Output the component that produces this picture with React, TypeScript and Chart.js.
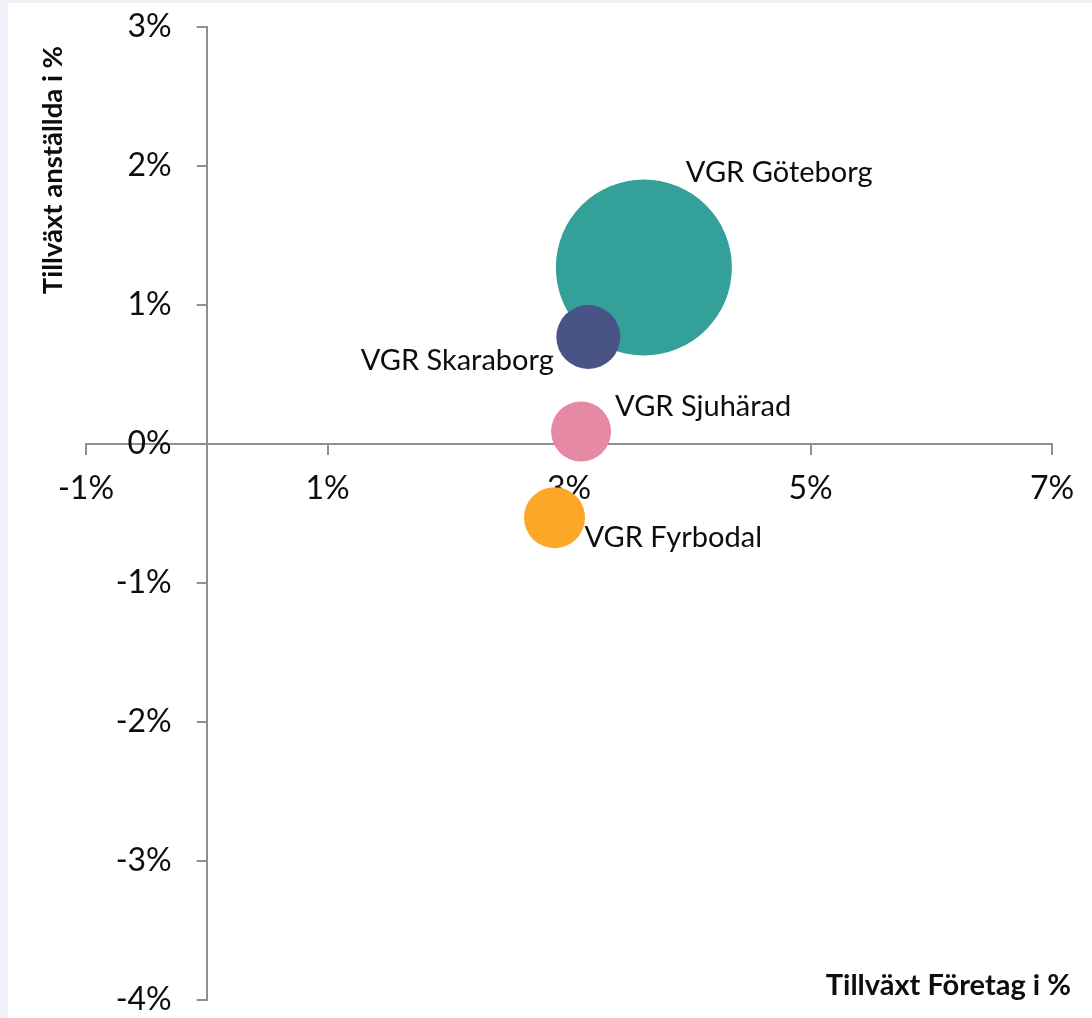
import React, { useEffect, useRef } from 'react';
import { Chart, registerables } from 'chart.js';

Chart.register(...registerables);

// ---- data ----
const regions = ['VGR Göteborg', 'VGR Skaraborg', 'VGR Sjuhärad', 'VGR Fyrbodal'];
const companyGrowth = [3.62, 3.16, 3.1, 2.88]; // x, %
const employeeGrowth = [1.27, 0.77, 0.09, -0.53]; // y, %
const bubbleSizes = [88, 32, 30, 30.5];
const xTickValues = [-1, 1, 3, 5, 7];
const yTickValues = [-4, -3, -2, -1, 0, 1, 2, 3];
const xAxisTitle = 'Tillväxt Företag i %';
const yAxisTitle = 'Tillväxt anställda i %';

// ---- style ----
const bubbleColors = ['#33a19a', '#485486', '#e589a4', '#fca728'];
const labelPlacement = [
  { dx: 42, dy: -85.5, align: 'left' },
  { dx: -34.5, dy: 33.5, align: 'right' },
  { dx: 34, dy: -15.5, align: 'left' },
  { dx: 30, dy: 29, align: 'left' },
];
const FONT = 'Lato, "Open Sans", sans-serif';
const AXIS_COLOR = '#8f8f8f';
const TEXT_COLOR = '#0d0d0d';

// Places the y axis where x = 0 (axes cross at the origin)
const yAxisAtZeroPlugin = {
  id: 'yAxisAtZero',
  afterLayout(chart: any) {
    const y = chart.scales.y;
    const x0 = chart.scales.x.getPixelForValue(0);
    y.left = 0;
    y.right = x0;
    y.width = x0;
  },
};

const annotationPlugin = {
  id: 'annotations',
  afterDraw(chart: any) {
    const ctx = chart.ctx;
    const meta = chart.getDatasetMeta(0);
    ctx.save();
    ctx.fillStyle = TEXT_COLOR;
    ctx.font = `29px ${FONT}`;
    ctx.textBaseline = 'alphabetic';
    meta.data.forEach((el: any, i: number) => {
      const p = labelPlacement[i];
      ctx.textAlign = p.align;
      ctx.fillText(regions[i], el.x + p.dx, el.y + p.dy);
    });
    // axis titles
    ctx.font = `bold 29px ${FONT}`;
    ctx.textAlign = 'right';
    ctx.fillText(xAxisTitle, 1071 - 8, 995 - 3);
    ctx.font = `bold 27.5px ${FONT}`;
    ctx.translate(62 - 8, 170 - 3);
    ctx.rotate(-Math.PI / 2);
    ctx.textAlign = 'center';
    ctx.fillText(yAxisTitle, 0, 0);
    ctx.restore();
  },
};

export default function App() {
  const ref = useRef<HTMLCanvasElement | null>(null);
  useEffect(() => {
    document.documentElement.style.background = '#eef2f8';
    document.body.style.margin = '3px 0 0 8px';
    document.body.style.background = '#eef2f8';
    const chart = new Chart(ref.current as HTMLCanvasElement, {
      type: 'bubble',
      data: {
        datasets: [
          {
            data: regions.map((_, i) => ({ x: companyGrowth[i], y: employeeGrowth[i], r: bubbleSizes[i] })),
            backgroundColor: bubbleColors,
            borderWidth: 0,
            hoverBorderWidth: 0,
          },
        ],
      },
      options: {
        animation: false,
        responsive: false,
        events: [],
        layout: { autoPadding: false, padding: { left: 78, right: 40, top: 24, bottom: 18 } },
        plugins: { legend: { display: false }, tooltip: { enabled: false } },
        scales: {
          x: {
            type: 'linear',
            min: -1,
            max: 7,
            position: { y: 0 } as any,
            afterBuildTicks: (s: any) => {
              s.ticks = xTickValues.map((v) => ({ value: v }));
            },
            afterFit: (s: any) => {
              s.height = 0;
              s.paddingLeft = 0;
              s.paddingRight = 0;
            },
            ticks: {
              callback: (v: any) => `${v}%`,
              font: { family: FONT, size: 32 },
              color: TEXT_COLOR,
              padding: 15,
              maxRotation: 0,
              autoSkip: false,
            },
            grid: { drawOnChartArea: false, drawTicks: true, tickLength: 10, color: AXIS_COLOR, lineWidth: 2 },
            border: { display: true, color: AXIS_COLOR, width: 2 },
          },
          y: {
            type: 'linear',
            min: -4,
            max: 3,
            position: 'left',
            afterBuildTicks: (s: any) => {
              s.ticks = yTickValues.map((v) => ({ value: v }));
            },
            afterFit: (s: any) => {
              s.width = 0;
              s.paddingTop = 0;
              s.paddingBottom = 0;
            },
            ticks: {
              callback: (v: any) => `${v}%`,
              font: { family: FONT, size: 32 },
              color: TEXT_COLOR,
              padding: 25,
              autoSkip: false,
            },
            grid: { drawOnChartArea: false, drawTicks: true, tickLength: 10, color: AXIS_COLOR, lineWidth: 2 },
            border: { display: true, color: AXIS_COLOR, width: 2 },
          },
        },
      },
      plugins: [yAxisAtZeroPlugin, annotationPlugin],
    });
    return () => chart.destroy();
  }, []);
  return (
    <div style={{ width: 1084, height: 1015, background: '#ffffff' }}>
      <canvas ref={ref} width={1084} height={1015} style={{ display: 'block' }} />
    </div>
  );
}
